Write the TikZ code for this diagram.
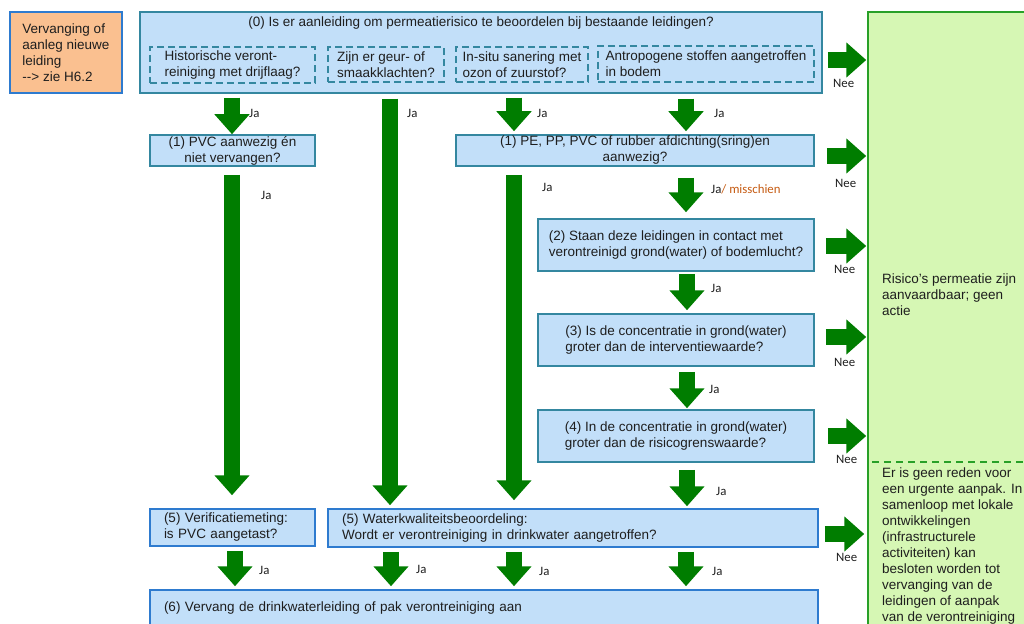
\documentclass[tikz,border=0pt]{standalone}
\usepackage{fontspec}
\setmainfont{Liberation Sans}
\newfontfamily\jafont{Carlito}
\usetikzlibrary{arrows.meta}
\definecolor{boxblue}{RGB}{194,223,249}
\definecolor{boxteal}{RGB}{52,135,160}
\definecolor{boxedge}{RGB}{46,123,207}
\definecolor{orangefill}{RGB}{250,192,144}
\definecolor{okfill}{RGB}{214,247,180}
\definecolor{okedge}{RGB}{40,160,40}
\definecolor{arrowgreen}{RGB}{0,125,0}
\definecolor{maybe}{RGB}{197,90,17}
\definecolor{ink}{RGB}{30,30,30}
\begin{document}
\begin{tikzpicture}[x=1pt,y=-1pt,
  txt/.style={font=\fontsize{13.5}{16}\selectfont, text=ink},
  box/.style={txt, draw=boxteal, line width=1.5pt, fill=boxblue, inner sep=0pt, align=center},
  leftbox/.style={box, draw=boxedge, align=left, inner xsep=14pt, text width=#1},
  dashbox/.style={txt, draw=boxteal, line width=1.5pt, dash pattern=on 7pt off 4pt, inner sep=0pt, align=left},
  ja/.style={font=\jafont\fontsize{12.8}{14}\selectfont, text=ink, anchor=west, inner sep=0pt},
  down/.style={draw=arrowgreen, line width=16pt, -{Triangle[width=34pt,length=20pt]}, shorten <=4pt, shorten >=3pt},
  nee/.style={down, shorten <=5pt, shorten >=1pt}]
\useasboundingbox (0,0) rectangle (1024,623);
\clip (0,0) rectangle (1024,623);

\node[box, draw=boxedge, fill=orangefill, align=left, minimum width=112pt, minimum height=81pt] (newpipe) at (66,52.5) {Vervanging of\\aanleg nieuwe\\leiding\\-\kern0pt-> zie H6.2};
\node[box, minimum width=682pt, minimum height=81pt] (q0) at (481,52.5) {};
\node[txt] (q0title) at (481,23) {(0) Is er aanleiding om permeatierisico te beoordelen bij bestaande leidingen?};
\node[dashbox, minimum width=165pt, minimum height=36pt] (hist) at (232.5,65) {Historische veront-\\reiniging met drijflaag?};
\node[dashbox, minimum width=116pt, minimum height=35pt] (smell) at (386,64.5) {Zijn er geur- of\\smaakklachten?};
\node[dashbox, minimum width=132pt, minimum height=35pt] (insitu) at (522,64.5) {In-situ sanering met\\ozon of zuurstof?};
\node[dashbox, minimum width=216pt, minimum height=36pt] (antro) at (706,64) {Antropogene stoffen aangetroffen\\in bodem};

\node[draw=okedge, line width=1.5pt, fill=okfill, minimum width=172pt, minimum height=628pt, inner sep=0pt] (accept) at (954,326) {};
\draw[okedge, line width=1.5pt, dash pattern=on 7pt off 5pt] (872,462) -- (1024,462);
\node[txt, anchor=north west, align=left, inner sep=0pt] (acceptnote) at (882,274) {Risico’s permeatie zijn\\aanvaardbaar; geen\\actie};
\node[txt, anchor=north west, align=left, inner sep=0pt] (laternote) at (882,468) {Er is geen reden voor\\een urgente aanpak. In\\samenloop met lokale\\ontwikkelingen\\(infrastructurele\\activiteiten) kan\\besloten worden tot\\vervanging van de\\leidingen of aanpak\\van de verontreiniging};

\node[box, minimum width=165pt, minimum height=31pt] (pvc) at (232.5,150.5) {(1) PVC aanwezig én\\niet vervangen?};
\node[box, minimum width=358pt, minimum height=31pt] (pe) at (635,150.5) {(1) PE, PP, PVC of rubber afdichting(sring)en\\aanwezig?};
\node[box, align=left, minimum width=276pt, minimum height=52pt] (contact) at (676,245) {(2) Staan deze leidingen in contact met\\verontreinigd grond(water) of bodemlucht?};
\node[box, align=left, minimum width=276pt, minimum height=52pt] (conc) at (676,340) {(3) Is de concentratie in grond(water)\\groter dan de interventiewaarde?};
\node[box, align=left, minimum width=276pt, minimum height=52pt] (risk) at (676,436) {(4) In de concentratie in grond(water)\\groter dan de risicogrenswaarde?};
\node[leftbox=137pt, minimum height=37pt] (verif) at (232.5,527.5) {(5) Verificatiemeting:\\is PVC aangetast?};
\node[leftbox=462pt, minimum height=38pt] (wq) at (573,528) {(5) Waterkwaliteitsbeoordeling:\\Wordt er verontreiniging in drinkwater aangetroffen?};
\node[leftbox=640pt, minimum height=36pt] (act) at (484,608) {(6) Vervang de drinkwaterleiding of pak verontreiniging aan};

\draw[down, shorten >=0pt] (q0.south -| 232,0) -- (pvc.north -| 232,0);
\draw[down, shorten <=5pt] (q0.south -| 390,0) -- (wq.north -| 390,0);
\draw[down] (q0.south -| 514,0) -- (pe.north -| 514,0);
\draw[down, shorten <=5pt] (q0.south -| 686,0) -- (pe.north -| 686,0);
\draw[down, shorten <=8pt, shorten >=13pt] (pvc.south -| 232,0) -- (verif.north -| 232,0);
\draw[down, shorten <=8pt, shorten >=8pt] (pe.south -| 514,0) -- (wq.north -| 514,0);
\draw[down, shorten <=11pt, shorten >=6pt] (pe.south -| 686,0) -- (contact.north -| 686,0);
\draw[down, shorten <=2pt] (contact.south -| 687,0) -- (conc.north -| 687,0);
\draw[down, shorten <=5pt, shorten >=1pt] (conc.south -| 687,0) -- (risk.north -| 687,0);
\draw[down, shorten <=7pt, shorten >=2pt] (risk.south -| 687,0) -- (wq.north -| 687,0);
\draw[down] (verif.south -| 235,0) -- (act.north -| 235,0);
\draw[down] (wq.south -| 391,0) -- (act.north -| 391,0);
\draw[down] (wq.south -| 514,0) -- (act.north -| 514,0);
\draw[down] (wq.south -| 686,0) -- (act.north -| 686,0);

\draw[nee] (q0.east |- 0,60) -- (accept.west |- 0,60);
\draw[nee, shorten <=12pt] (pe.east |- 0,156) -- (accept.west |- 0,156);
\draw[nee, shorten <=11pt] (contact.east |- 0,246) -- (accept.west |- 0,246);
\draw[nee, shorten <=11pt] (conc.east |- 0,337) -- (accept.west |- 0,337);
\draw[nee, shorten <=13pt] (risk.east |- 0,436) -- (accept.west |- 0,436);
\draw[nee, shorten <=6pt, shorten >=3pt] (wq.east |- 0,534) -- (accept.west |- 0,534);

\node[ja] (ja1) at (249,113) {Ja};
\node[ja] (ja2) at (407,113) {Ja};
\node[ja] (ja3) at (537,113) {Ja};
\node[ja] (ja4) at (714,113) {Ja};
\node[ja] (ja5) at (261,195) {Ja};
\node[ja] (ja6) at (542,187) {Ja};
\node[ja] (ja7) at (711,189) {Ja\textcolor{maybe}{/ misschien}};
\node[ja] (ja8) at (711,288) {Ja};
\node[ja] (ja9) at (709,389) {Ja};
\node[ja] (ja10) at (716,491) {Ja};
\node[ja] (ja11) at (259,570) {Ja};
\node[ja] (ja12) at (416,569) {Ja};
\node[ja] (ja13) at (539,571) {Ja};
\node[ja] (ja14) at (712,571) {Ja};
\node[ja] (nee1) at (833,83) {Nee};
\node[ja] (nee2) at (835,183) {Nee};
\node[ja] (nee3) at (834,269) {Nee};
\node[ja] (nee4) at (834,362) {Nee};
\node[ja] (nee5) at (836,459) {Nee};
\node[ja] (nee6) at (836,557) {Nee};
\end{tikzpicture}
\end{document}
